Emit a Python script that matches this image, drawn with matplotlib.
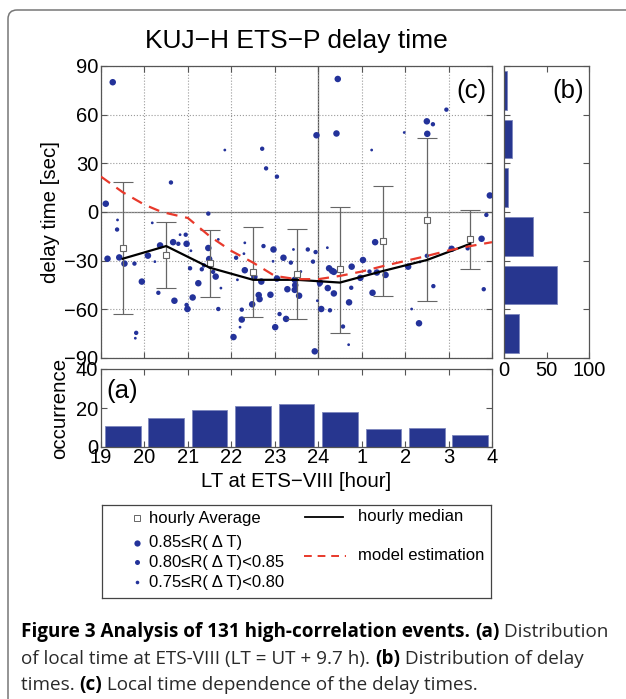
import numpy as np
import matplotlib
matplotlib.use("Agg")
import matplotlib.pyplot as plt
from matplotlib.patches import PathPatch
from matplotlib.path import Path

plt.rcParams["font.family"] = ["Liberation Sans", "DejaVu Sans"]

# %% Data
# scatter: local time (19..28, 24 = midnight), delay [sec], correlation class (0: >=0.85, 1: 0.80-0.85, 2: 0.75-0.80)
ev_lt = [19.27, 19.11, 19.15, 19.38, 19.37, 19.42, 19.54, 19.77, 19.81, 19.79, 19.94,
         20.08, 20.18, 20.24, 20.32, 20.36, 20.61, 20.66, 20.69, 20.78, 20.82, 20.95, 20.97, 20.97, 20.99,
         21.05, 21.07, 21.11, 21.24, 21.32, 21.37, 21.47, 21.47, 21.49, 21.51, 21.58, 21.64, 21.70, 21.76, 21.70, 21.85,
         22.11, 22.14, 22.24, 22.24, 22.20, 22.05, 22.31, 22.29, 22.31, 22.48, 22.53, 22.63, 22.65, 22.69, 22.71,
         22.74, 22.80, 22.90, 22.97, 23.05, 23.05, 23.01, 22.96, 23.11, 23.20, 23.26, 23.29, 23.37, 23.43, 23.46,
         23.46, 23.47, 23.56, 23.60, 23.76,
         23.94, 23.88, 23.96, 23.92, 24.04, 24.03, 23.98, 24.07, 24.21, 24.22, 24.25, 24.27, 24.32, 24.36, 24.36,
         24.42, 24.45, 24.57, 24.71, 24.70, 24.77, 24.76, 24.97, 25.03, 25.18, 25.23, 25.25, 25.31, 25.35, 25.55,
         26.07, 25.98, 26.15, 26.32, 26.34, 26.50, 26.64, 26.51, 26.65, 26.95, 27.07, 27.44, 27.76, 27.87, 27.95,
         27.81, 26.50]
ev_delay = [80, 5.1, -28.8, -4.9, -10.8, -28, -31.8, -31.8, -74.5, -77.8, -42.9,
            -26.9, -6.7, -30.6, -49.8, -20.6, 18.2, -18.6, -54.7, -19.6, -14, -14, -19.6, -57.3, -59.8,
            -34.7, -23.9, -52.7, -43.9, -35.3, -32.9, -1, -22.2, -29, -33.7, -36.9, -39.8, -16.9, -46.9, -59.8, 38.2,
            -28.2, -41.8, -60.2, -66.3, -71, -77.1, -19, -25.7, -35.9, -56.9, -40, -51.2, -53.7, -42.9, 39,
            -21, 26.9, -51, -23.1, 21.8, -41, -71, -30.4, -62.9, -28.2, -65.9, -47.6, -31.2, -23.1, -41.8,
            -48, -45.1, -51.6, -36.7, -23.1,
            -24.7, -30.6, 47.3, -85.9, -43.5, -44.7, -54.7, -59.8, -22, -46.9, -34.7, -60.6, -36.3, -36.9, -50.2,
            48.4, 82, -70.6, -55.7, -81.8, -33.7, -46.7, -40.6, -29.6, -36.7, 38.2, -49.8, -18.6, -37.3, -38.8,
            -33.7, 49, -59.8, -68.6, -30.8, 55.9, 54.1, 48.2, -45.7, 63.1, -22.7, -22.4, -16.5, -1.8, 10.2,
            -47.6, -27]
ev_class = [0, 0, 0, 2, 1, 0, 0, 1, 1, 2, 0,
            0, 2, 2, 1, 0, 1, 0, 0, 1, 2, 1, 0, 1, 0,
            1, 2, 0, 0, 1, 1, 1, 0, 0, 1, 1, 0, 2, 2, 1, 2,
            1, 2, 1, 0, 2, 0, 2, 2, 0, 0, 0, 0, 0, 0, 1,
            1, 1, 0, 0, 1, 0, 0, 2, 1, 0, 0, 0, 1, 2, 0,
            0, 0, 0, 2, 1,
            1, 1, 0, 0, 0, 1, 2, 0, 2, 0, 0, 1, 0, 0, 0,
            0, 0, 1, 0, 2, 0, 1, 0, 0, 1, 2, 0, 0, 0, 0,
            0, 2, 2, 0, 2, 0, 1, 0, 1, 1, 0, 1, 0, 1, 0,
            1, 1]

# hourly statistics
hour_mid = [19.5, 20.5, 21.5, 22.5, 23.5, 24.5, 25.5, 26.5, 27.5]
hour_avg = [-22.4, -26.7, -31.6, -36.9, -38.0, -35.3, -17.8, -4.7, -16.9]
hour_top = [18.2, -6.1, -10.8, -9.4, -10.2, 3.1, 15.9, 45.9, 1.0]
hour_bot = [-63.1, -46.9, -52.7, -64.9, -65.7, -74.3, -51.6, -55.1, -34.9]
hour_median = [-28.8, -21.0, -34.3, -41.8, -41.8, -43.5, -36.3, -29.6, -19.6]

# model estimation
model_lt = [19, 19.5, 20, 20.4, 21, 21.5, 22, 22.5, 23, 23.5, 24, 24.5, 25, 25.5, 26, 26.5, 27, 27.5, 28]
model_delay = [21.8, 12.2, 4.5, 0, -3.7, -14.9, -24, -31.2, -39.4, -41.4, -41.4, -39.4, -36.7, -33.3,
               -30.2, -27.1, -23.7, -21, -18.6]

# (a) occurrence per hour, (b) occurrence per delay bin
lt_count = [11, 15, 19, 21, 22, 18, 9, 10, 6]
delay_bins = [-75, -45, -15, 15, 45, 75]
delay_count = [18, 62, 34, 5, 9, 3]

lt_ticks = [19, 20, 21, 22, 23, 24, 25, 26, 27, 28]
lt_labels = ["19", "20", "21", "22", "23", "24", "1", "2", "3", "4"]
delay_ticks = [-90, -60, -30, 0, 30, 60, 90]

# %% Figure
W, H = 626, 699
fig = plt.figure(figsize=(W / 100, H / 100), dpi=100)


def box(x0, y0, x1, y1):
    return [x0 / W, 1 - y1 / H, (x1 - x0) / W, (y1 - y0) / H]


blue = "#23329a"
bar_blue = "#27368f"
spine = "#555555"
tick_fs = 14.5
label_fs = 14.7
panel_fs = 18.5


def style(ax):
    for s in ax.spines.values():
        s.set_color(spine)
        s.set_linewidth(0.9)
    ax.tick_params(direction="in", length=4, width=0.8, color=spine, top=True, right=True,
                   labelsize=tick_fs, pad=2)


# main panel (c)
ax = fig.add_axes(box(101, 66, 492, 358))
style(ax)
ax.set_xlim(19, 28)
ax.set_ylim(-90, 90)
ax.set_xticks(lt_ticks)
ax.set_xticklabels([])
ax.set_yticks(delay_ticks)
ax.set_yticklabels(["\u221290", "\u221260", "\u221230", "0", "30", "60", "90"])
ax.grid(True, linestyle=":", color="#9a9a9a", linewidth=0.8)
ax.axhline(0, color="#777777", lw=0.9, zorder=1)
ax.axvline(24, color="#555555", lw=0.9, zorder=1)

sizes = [22, 10, 4]
cls = np.array(ev_class)
lt = np.array(ev_lt)
dl = np.array(ev_delay)
for c in range(3):
    m = cls == c
    ax.scatter(lt[m], dl[m], s=sizes[c], color=blue, edgecolors="none", zorder=3)

ax.errorbar(hour_mid, hour_avg,
            yerr=[np.array(hour_avg) - np.array(hour_bot), np.array(hour_top) - np.array(hour_avg)],
            fmt="s", ms=4.5, mfc="white", mec="#666666", mew=0.8, ecolor="#666666",
            elinewidth=0.9, capsize=7, capthick=0.9, zorder=4)
ax.plot(hour_mid, hour_median, color="black", lw=1.6, zorder=5)
ax.plot(model_lt, model_delay, color="#e8392b", lw=1.6, ls=(0, (5, 3.5)), zorder=5)
ax.set_ylabel("delay time [sec]", fontsize=label_fs, va="center")
ax.yaxis.set_label_coords((51 - 101) / 391, 0.5)
ax.text(0.985, 0.955, "(c)", transform=ax.transAxes, ha="right", va="top", fontsize=panel_fs)
ax.set_title("KUJ\u2212H ETS\u2212P delay time", fontsize=19, pad=13)

# side panel (b)
axb = fig.add_axes(box(504, 66, 589, 358))
style(axb)
axb.barh(delay_bins, delay_count, height=24, color=bar_blue, edgecolor="#7d86bd", linewidth=0.6)
axb.set_xlim(0, 100)
axb.set_ylim(-90, 90)
axb.set_yticks(delay_ticks)
axb.set_yticklabels([])
axb.set_xticks([0, 50, 100])
axb.tick_params(axis="x", pad=2)
axb.text(0.94, 0.955, "(b)", transform=axb.transAxes, ha="right", va="top", fontsize=panel_fs)

# bottom panel (a)
axa = fig.add_axes(box(101, 369, 492, 447))
style(axa)
axa.bar(hour_mid, lt_count, width=0.82, color=bar_blue, edgecolor="#7d86bd", linewidth=0.6)
axa.set_xlim(19, 28)
axa.set_ylim(0, 40)
axa.set_xticks(lt_ticks)
axa.set_xticklabels(lt_labels)
axa.set_yticks([0, 20, 40])
axa.tick_params(axis="x", pad=1)
axa.set_xlabel("LT at ETS\u2212VIII [hour]", fontsize=label_fs, va="center")
axa.xaxis.set_label_coords(0.5, (447 - 481) / 78)
axa.set_ylabel("occurrence", fontsize=label_fs, va="center")
axa.yaxis.set_label_coords((60 - 101) / 391, 0.5)
axa.text(0.015, 0.72, "(a)", transform=axa.transAxes, ha="left", va="center", fontsize=panel_fs)

# legend box drawn in its own axes (pixel coordinates)
axl = fig.add_axes(box(102, 505, 491, 598))
axl.set_xlim(102, 491)
axl.set_ylim(598, 505)
axl.set_xticks([])
axl.set_yticks([])
for s in axl.spines.values():
    s.set_color("#444444")
    s.set_linewidth(0.9)
leg_fs = 12
axl.plot([137], [518], "s", ms=4, mfc="white", mec="#666666", mew=0.7)
axl.text(149, 518, "hourly Average", fontsize=leg_fs, va="center")
leg_rows = [543, 562, 582]
leg_text = ["0.85\u2264R( \u0394 T)", "0.80\u2264R( \u0394 T)<0.85", "0.75\u2264R( \u0394 T)<0.80"]
leg_ms = [4.5, 3.6, 2.6]
for yy, tt, mm in zip(leg_rows, leg_text, leg_ms):
    axl.plot([137], [yy], "o", ms=mm, color=blue, mec="none")
    axl.text(149, yy, tt, fontsize=leg_fs, va="center")
axl.plot([305, 343], [516.5, 516.5], color="black", lw=1.3)
axl.text(358, 516.5, "hourly median", fontsize=leg_fs, va="center")
axl.plot([304, 346], [556, 556], color="#e8392b", lw=1.4, ls=(0, (4, 3)))
axl.text(358, 556, "model estimation", fontsize=leg_fs, va="center")

# outer frame: only top and left edge are inside the picture
r = 9
pts = [(W + 10, 10), (8 + r, 10), (8, 10), (8, 10 + r), (8, H + 10)]
codes = [Path.MOVETO, Path.LINETO, Path.CURVE3, Path.CURVE3, Path.LINETO]
pts_fig = [(px / W, 1 - py / H) for px, py in pts]
fig.patches.append(PathPatch(Path(pts_fig, codes), transform=fig.transFigure, fill=False,
                             edgecolor="#777777", lw=1.1, figure=fig))

# caption with mixed bold / regular pieces
cap_font = ["Open Sans", "DejaVu Sans"]
cap_fs = 13.6
cap_lines = [
    [("Figure 3 Analysis of 131 high-correlation events. ", "bold"), ("(a)", "bold"), (" Distribution", "normal")],
    [("of local time at ETS-VIII (LT = UT + 9.7 h). ", "normal"), ("(b)", "bold"), (" Distribution of delay", "normal")],
    [("times. ", "normal"), ("(c)", "bold"), (" Local time dependence of the delay times.", "normal")],
]
cap_base = [637, 664, 690]
fig.canvas.draw()
renderer = fig.canvas.get_renderer()
for pieces, yb in zip(cap_lines, cap_base):
    x = 21
    for txt, wt in pieces:
        t = fig.text(x / W, 1 - yb / H, txt, fontsize=cap_fs, fontweight=wt, family=cap_font,
                     va="baseline", ha="left", color="#2a2a2a" if wt == "normal" else "black")
        bb = t.get_window_extent(renderer)
        x += bb.width

fig.savefig("out.png", dpi=100)
